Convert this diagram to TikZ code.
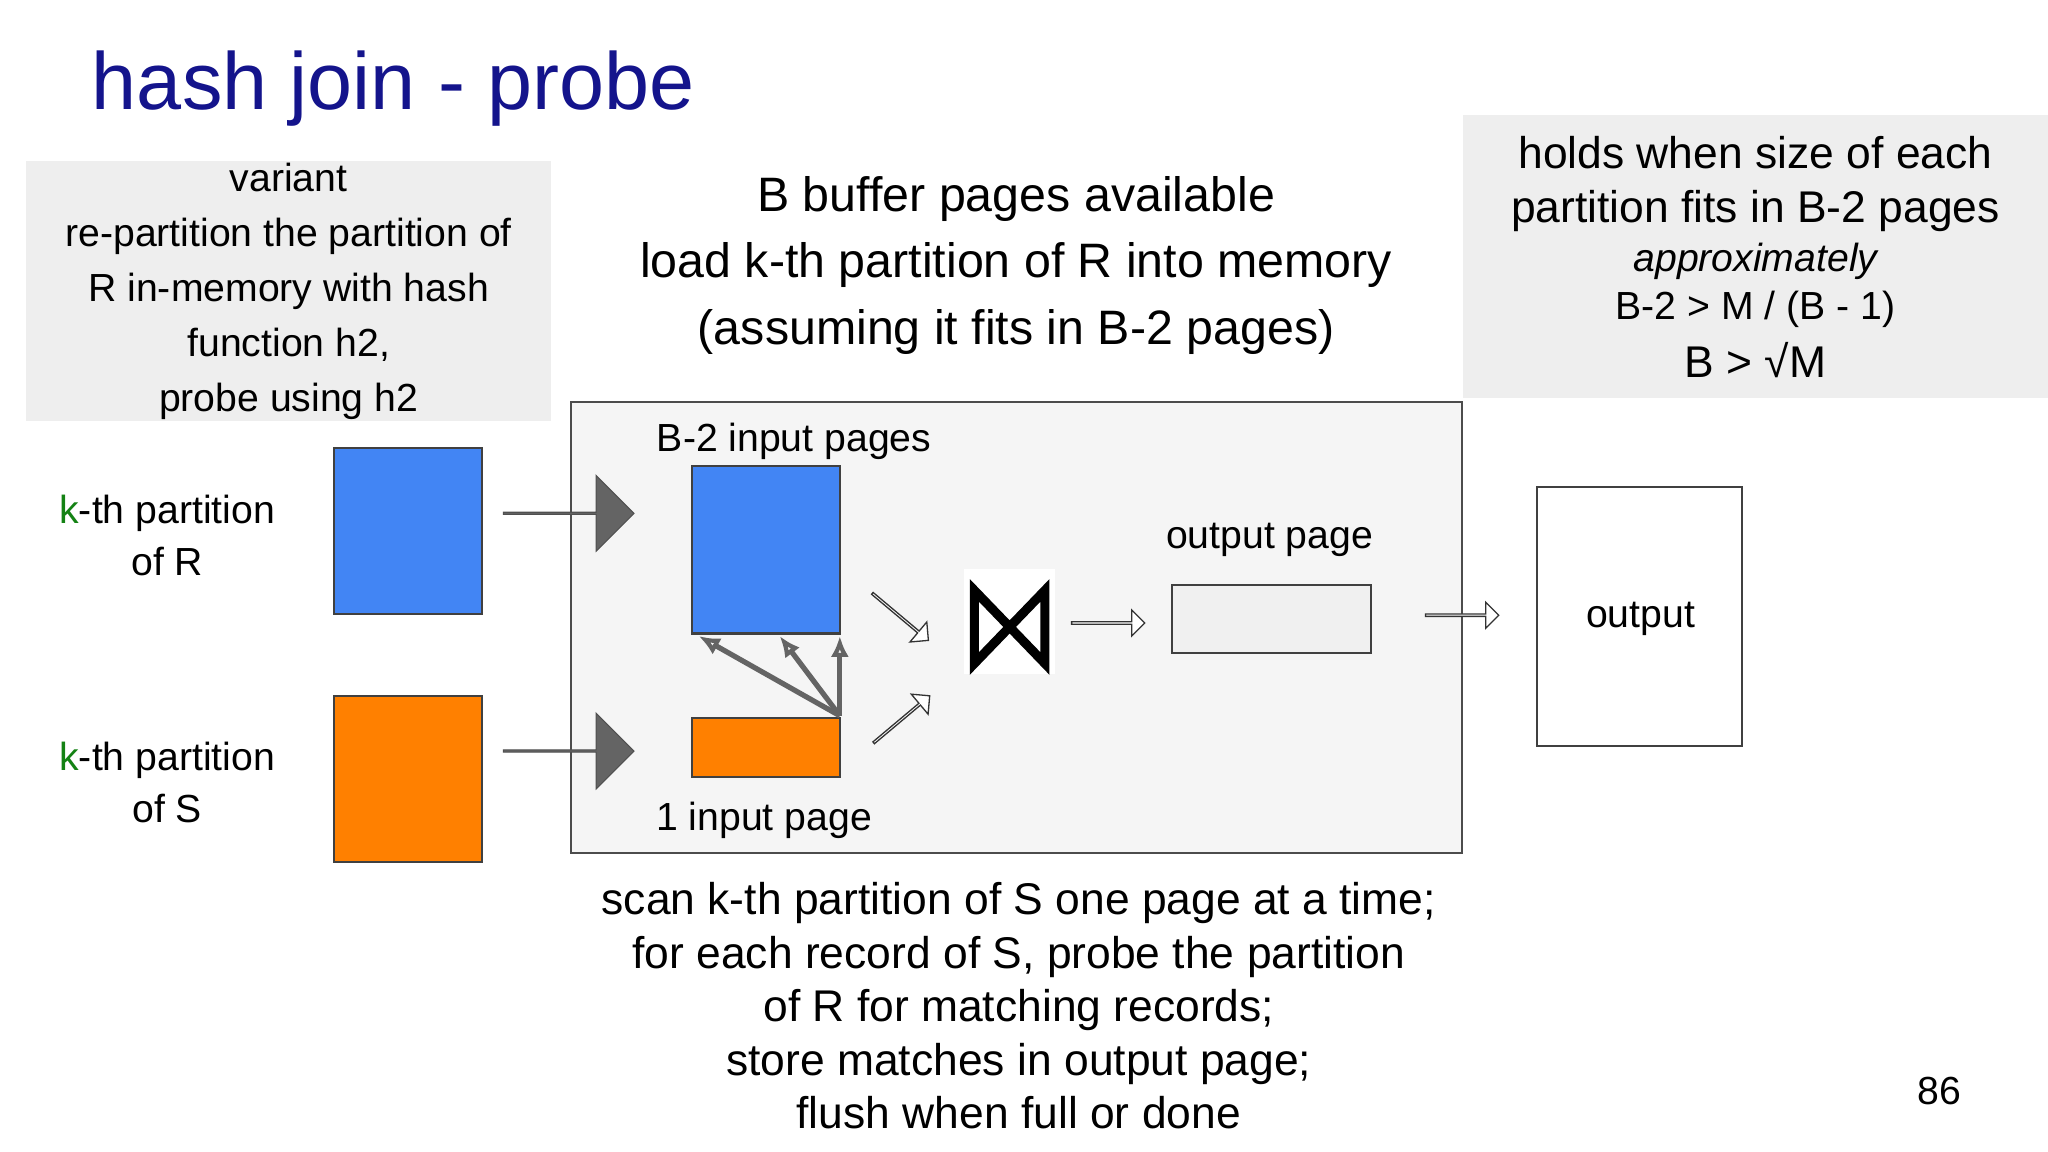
\documentclass[tikz,border=0pt]{standalone}
\usepackage{fontspec}
\setmainfont{Liberation Sans}
\usetikzlibrary{shapes.arrows}
\definecolor{tblue}{RGB}{20,20,140}
\definecolor{pblue}{RGB}{66,133,244}
\definecolor{porange}{RGB}{255,128,0}
\definecolor{kgreen}{RGB}{20,130,20}
\definecolor{boxgray}{RGB}{238,238,238}
\definecolor{arrgray}{RGB}{100,100,100}
\tikzset{
  txt/.style={font=\fontsize{15}{18}\selectfont, align=center, inner sep=0},
  big/.style={font=\fontsize{18.5}{23.5}\selectfont, align=center, inner sep=0},
  mid/.style={font=\fontsize{17}{20.5}\selectfont, align=center, inner sep=0},
  page/.style={draw=black!75, line width=0.8pt},
  blockarr/.style={single arrow, fill=arrgray, draw=arrgray!80!black, minimum height=50pt, minimum width=29pt, single arrow head extend=7pt, inner sep=0},
  hollow/.style={single arrow, draw=black!80, fill=white, line width=0.5pt, minimum height=28pt, minimum width=10pt, single arrow head extend=2.5pt, inner sep=0},
  thin/.style={draw=arrgray, line width=2pt, -{Latex[length=8pt,width=7pt,open]}}
}
\usetikzlibrary{arrows.meta}
\begin{document}
\begin{tikzpicture}[x=0.5pt,y=-0.5pt]
\useasboundingbox (0,0) rectangle (1568,882);
\fill[white] (0,0) rectangle (1568,882);
\node[font=\fontsize{31}{36}\selectfont, text=tblue, anchor=west, inner sep=0] (title) at (70,68) {hash join - probe};
\fill[boxgray] (20,123) rectangle (422,322);
\node[txt] (variant) at (221,223) {variant\\[3pt]re-partition the partition of\\[3pt]R in-memory with hash\\[3pt]function h2,\\[3pt]probe using h2};
\node[big] (center) at (778,203) {B buffer pages available\\[2pt]load k-th partition of R into memory\\[2pt](assuming it fits in B-2 pages)};
\fill[boxgray] (1120,88) rectangle (1568,305);
\node[mid] (holds) at (1344,141) {holds when size of each\\partition fits in B-2 pages};
\node[txt, font=\fontsize{15}{18}\selectfont\itshape] (approx) at (1344,200) {approximately};
\node[txt] (ineq) at (1344,237) {B-2 > M / (B - 1)};
\node[mid] (sqrt) at (1344,276) {B > √M};
\draw[fill=black!4, draw=black!70, line width=0.8pt] (437,308) rectangle (1119,653);
\node[txt] (b2lab) at (608,338) {B-2 input pages};
\node[txt] (onelab) at (585,628) {1 input page};
\draw[page, fill=pblue] (530,357) rectangle (643,485);
\coordinate (bluebot) at (643,485);
\draw[page, fill=porange] (530,550) rectangle (643,595);
\coordinate (os) at (643,548);
\draw[thin] (os) -- (535,487);
\draw[thin] (os) -- (597,487);
\draw[thin] (os) -- (643,487);
\draw[page, fill=pblue] (256,343) rectangle (369,470);
\draw[page, fill=porange] (256,533) rectangle (369,660);
\node[blockarr] (ar1) at (435,393) {};
\node[blockarr] (ar2) at (435,575) {};
\node[txt] (kr) at (128,410) {\textcolor{kgreen}{k}-th partition\\[2pt]of R};
\node[txt] (ks) at (128,599) {\textcolor{kgreen}{k}-th partition\\[2pt]of S};
\node[hollow, rotate=-40] (h1) at (689,472) {};
\node[hollow, rotate=40] (h2) at (690,551) {};
\node[hollow] (h3) at (848,477) {};
\node[hollow] (h4) at (1119,471) {};
\fill[white] (738,436) rectangle (808,516);
\draw[line width=3.5pt, line join=miter] (746,452) -- (746,508) -- (800,452) -- (800,508) -- cycle;
\node[txt] (outlab) at (972,413) {output page};
\draw[page, fill=black!6] (897,448) rectangle (1050,500);
\draw[page, fill=white] (1177,373) rectangle (1334,571);
\node[txt] (outtxt) at (1256,474) {output};
\node[mid] (scan) at (780,770) {scan k-th partition of S one page at a time;\\for each record of S, probe the partition\\of R for matching records;\\store matches in output page;\\flush when full or done};
\node[txt] (num) at (1485,835) {86};
\end{tikzpicture}
\end{document}
